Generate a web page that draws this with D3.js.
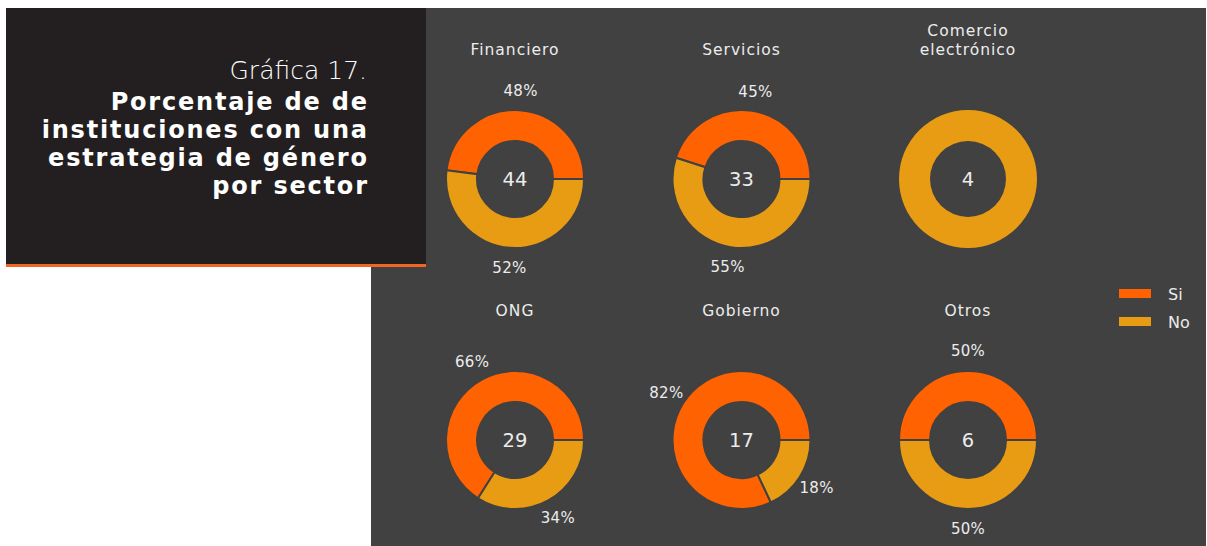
<!DOCTYPE html>
<html>
<head>
<meta charset="utf-8">
<script src="https://cdn.jsdelivr.net/npm/d3@7"></script>
<style>
  html, body { margin: 0; padding: 0; background: #ffffff; }
  svg { display: block; }
  text { font-family: "DejaVu Sans", "Open Sans", sans-serif; }
</style>
</head>
<body>
<svg id="chart" width="1207" height="546"></svg>
<script>
// ---- Data ----
const sectors = ["Financiero", "Servicios", "Comercio electrónico", "ONG", "Gobierno", "Otros"];
const sectorTitleLines = [["Financiero"], ["Servicios"], ["Comercio", "electrónico"], ["ONG"], ["Gobierno"], ["Otros"]];
const totals = [44, 33, 4, 29, 17, 6];
const siPct = [48, 45, 0, 66, 82, 50];
const noPct = [52, 55, 100, 34, 18, 50];
const seriesNames = ["Si", "No"];
const titleLight = "Gráfica 17.";
const titleBold = ["Porcentaje de de", "instituciones con una", "estrategia de género", "por sector"];

// ---- Styles ----
const colors = { Si: "#ff6200", No: "#e89c14" };
const panelColor = "#414141";
const boxColor = "#231f20";
const textColor = "#ececec";

const svg = d3.select("#chart");

// panel and title box
svg.append("rect").attr("x", 371).attr("y", 8).attr("width", 835).attr("height", 538).attr("fill", panelColor);
svg.append("rect").attr("x", 6).attr("y", 8).attr("width", 420).attr("height", 256).attr("fill", boxColor);
svg.append("rect").attr("x", 6).attr("y", 264).attr("width", 420).attr("height", 3).attr("fill", "#f26522");

const tg = svg.append("g").attr("text-anchor", "end").attr("fill", "#ffffff");
tg.append("text").attr("x", 367).attr("y", 79)
  .attr("font-size", 25).attr("font-weight", 200).text(titleLight);
titleBold.forEach((line, i) => {
  tg.append("text").attr("x", 368.8).attr("y", 110 + i * 28)
    .attr("font-size", 24).attr("font-weight", 700).attr("letter-spacing", 1.8).text(line);
});

// grid scales
const xScale = d3.scalePoint().domain([0, 1, 2]).range([515, 968]);
const yScale = d3.scalePoint().domain([0, 1]).range([179, 440]);

const rOuter = 69, rInner = 38, rLabel = 89;
const pie = d3.pie().sort(null).value(d => d.value)
  .startAngle(Math.PI / 2).endAngle(Math.PI / 2 - 2 * Math.PI);
const arc = d3.arc().innerRadius(rInner).outerRadius(rOuter);
const labelArc = d3.arc().innerRadius(rLabel).outerRadius(rLabel);

sectors.forEach((s, i) => {
  const cx = xScale(i % 3), cy = yScale(Math.floor(i / 3));
  const g = svg.append("g").attr("transform", `translate(${cx},${cy})`);
  const data = [{ key: "Si", value: siPct[i] }, { key: "No", value: noPct[i] }];
  const arcs = pie(data);
  g.selectAll("path.slice").data(arcs.filter(a => a.data.value > 0)).enter().append("path")
    .attr("class", "slice")
    .attr("d", arc)
    .attr("fill", d => colors[d.data.key])
    .attr("stroke", data.filter(d => d.value > 0).length > 1 ? panelColor : "none")
    .attr("stroke-width", 2);
  g.selectAll("text.pct").data(arcs.filter(a => a.data.value > 0 && a.data.value < 100)).enter().append("text")
    .attr("class", "pct")
    .attr("transform", d => `translate(${labelArc.centroid(d)})`)
    .attr("text-anchor", "middle").attr("dy", "0.36em")
    .attr("fill", textColor).attr("font-size", 15).attr("letter-spacing", 0.3)
    .text(d => d.data.value + "%");
  g.append("text").attr("text-anchor", "middle").attr("dy", "0.36em")
    .attr("fill", textColor).attr("font-size", 19.5)
    .text(totals[i]);
  const lines = sectorTitleLines[i];
  lines.forEach((ln, j) => {
    g.append("text").attr("text-anchor", "middle")
      .attr("y", -124 - (lines.length - 1 - j) * 19)
      .attr("fill", textColor).attr("font-size", 15.5).attr("letter-spacing", 1.0)
      .text(ln);
  });
});

// legend
const legend = svg.append("g");
seriesNames.forEach((name, i) => {
  legend.append("rect").attr("x", 1119).attr("y", 289 + i * 28).attr("width", 32).attr("height", 9)
    .attr("fill", colors[name]);
  legend.append("text").attr("x", 1168).attr("y", 300 + i * 27.5)
    .attr("fill", textColor).attr("font-size", 16).text(name);
});
</script>
</body>
</html>
